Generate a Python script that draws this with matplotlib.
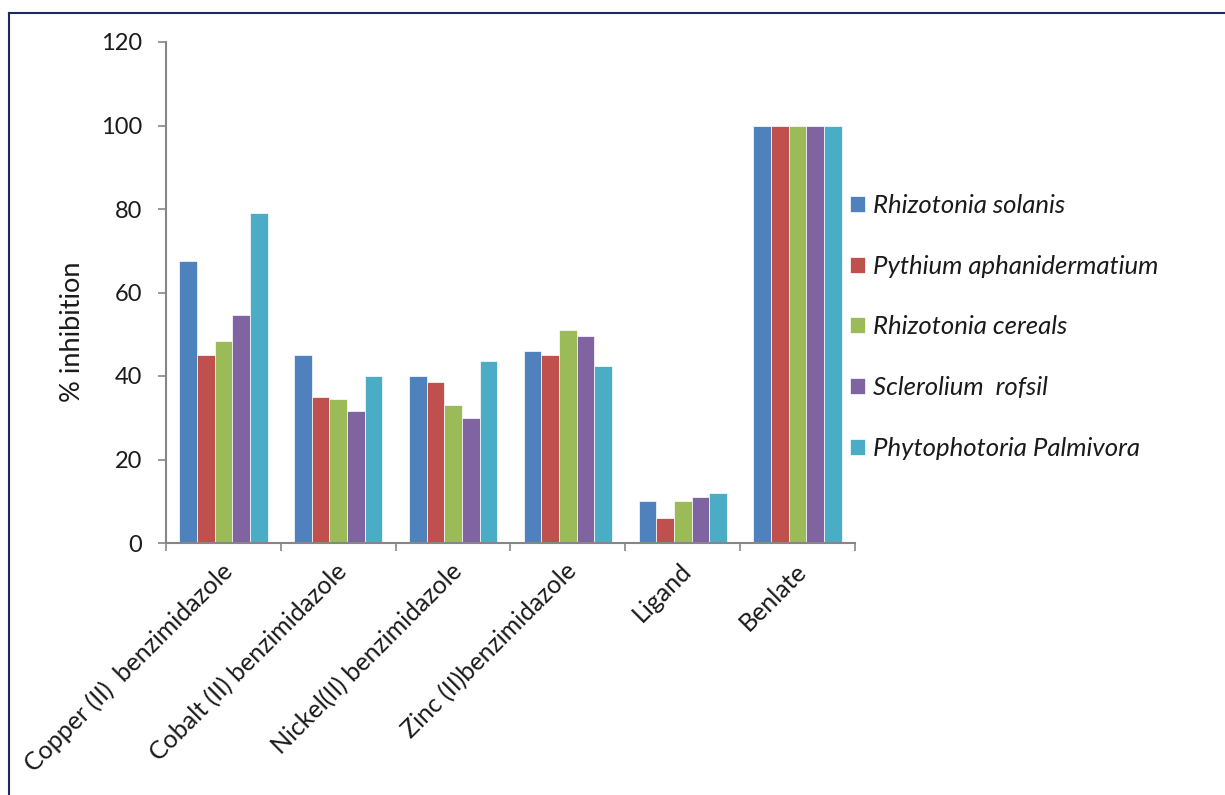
import matplotlib
matplotlib.use("Agg")
import matplotlib.pyplot as plt
import numpy as np
from matplotlib.lines import Line2D
from matplotlib.transforms import offset_copy

plt.rcParams['font.family'] = ['Lato', 'DejaVu Sans']

categories = ["Copper (II)  benzimidazole", "Cobalt (II) benzimidazole",
              "Nickel(II) benzimidazole", "Zinc (II)benzimidazole",
              "Ligand", "Benlate"]
series_names = ["Rhizotonia solanis", "Pythium aphanidermatium",
                "Rhizotonia cereals", "Sclerolium  rofsil",
                "Phytophotoria Palmivora"]
rhizotonia_solanis = [67.5, 45, 40, 46, 10, 100]
pythium_aphanidermatium = [45, 35, 38.5, 45, 6, 100]
rhizotonia_cereals = [48.5, 34.5, 33, 51, 10, 100]
sclerolium_rofsil = [54.5, 31.5, 30, 49.5, 11, 100]
phytophotoria_palmivora = [79, 40, 43.5, 42.5, 12, 100]
y_ticks = [0, 20, 40, 60, 80, 100, 120]

series = [rhizotonia_solanis, pythium_aphanidermatium, rhizotonia_cereals,
          sclerolium_rofsil, phytophotoria_palmivora]
colors = ["#4F81BD", "#C0504D", "#9BBB59", "#8064A2", "#4BACC6"]

W, H = 1225, 795
fig = plt.figure(figsize=(W / 100, H / 100), dpi=100)
ax = fig.add_axes([166 / W, 1 - 543 / H, (855 - 166) / W, (543 - 42) / H])

n = len(series)
bw = 1 / 6.5
x = np.arange(len(categories))
for i, (vals, name, c) in enumerate(zip(series, series_names, colors)):
    ax.bar(x + (i - (n - 1) / 2) * bw, vals, width=bw, color=c,
           edgecolor="white", linewidth=0.5, label=name, zorder=2)

text_color = "#1a1a1a"
axis_gray = "#868686"
ax.set_xlim(-0.5, len(categories) - 0.5)
ax.set_ylim(0, 120)
ax.set_yticks(y_ticks)
ax.set_yticklabels([str(t) for t in y_ticks], fontsize=17, color=text_color)
ax.set_xticks(np.arange(len(categories) + 1) - 0.5)
ax.set_xticklabels([])
ax.tick_params(axis="y", length=6, width=1.2, color=axis_gray, pad=11)
ax.tick_params(axis="x", length=6, width=1.2, color=axis_gray)
for s in ["top", "right"]:
    ax.spines[s].set_visible(False)
for s in ["left", "bottom"]:
    ax.spines[s].set_color(axis_gray)
    ax.spines[s].set_linewidth(1.5)

# Rotated category labels beneath each group
for xi, label in zip(x, categories):
    t = offset_copy(ax.get_xaxis_transform(), fig=fig, x=-3, y=-16, units="dots")
    ax.text(xi, 0, label, transform=t, rotation=45, ha="right", va="top",
            rotation_mode="anchor", fontsize=18, color=text_color)

# Axis title
fig.text(73 / W, 1 - 332 / H, "% inhibition", rotation=90, ha="center",
         va="center", fontsize=19.5, color=text_color)

leg = ax.legend(loc="center left", bbox_to_anchor=(850 / W, 1 - 327 / H),
                bbox_transform=fig.transFigure, frameon=False,
                handlelength=0.58, handleheight=0.58, handletextpad=0.3,
                labelspacing=1.47, borderpad=0, borderaxespad=0,
                prop={"size": 18.5, "style": "italic"})
for t in leg.get_texts():
    t.set_color(text_color)

# Outer chart frame
navy = "#1F2A5C"
fig.add_artist(Line2D([9 / W, 1], [1 - 13 / H, 1 - 13 / H], color=navy, lw=1.5,
                      transform=fig.transFigure))
fig.add_artist(Line2D([9 / W, 9 / W], [0, 1 - 13 / H], color=navy, lw=1.5,
                      transform=fig.transFigure))

fig.savefig("out.png", dpi=100, facecolor="white")
